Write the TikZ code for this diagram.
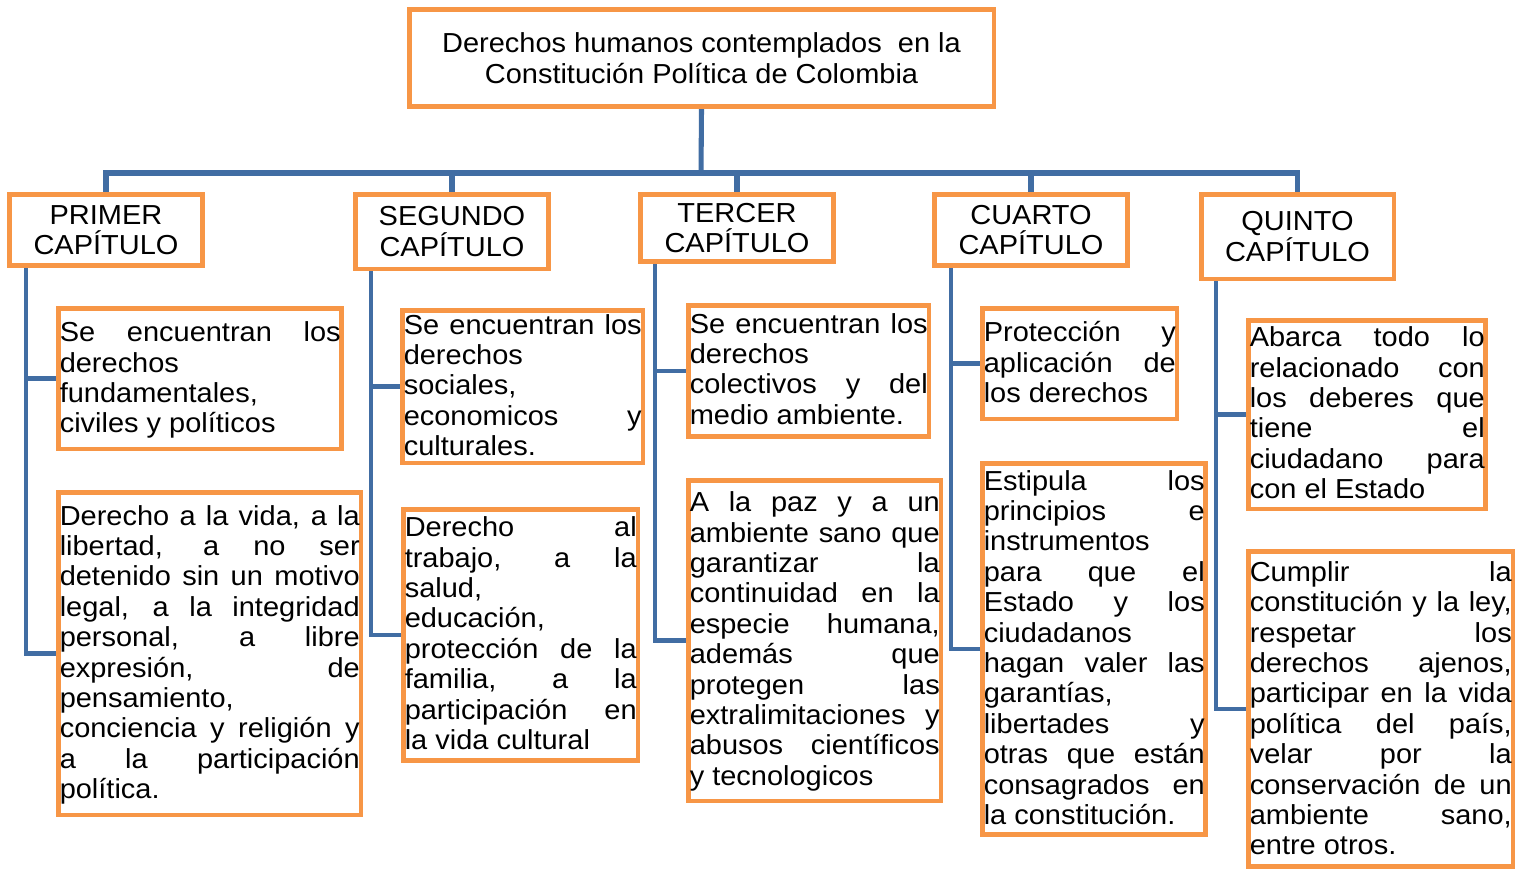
\documentclass[tikz,border=0pt]{standalone}
\usepackage{fontspec}
\setmainfont{Liberation Sans}[FakeStretch=1.055]
\usetikzlibrary{calc,backgrounds}
\definecolor{boxorange}{HTML}{F79646}
\definecolor{lineblue}{HTML}{416DA3}
\newcommand{\jline}[1]{\makebox[\linewidth][s]{\spaceskip=\fontdimen2\font plus 1fil\relax #1}}
\tikzset{
  every node/.style={font=\fontsize{20.6pt}{22.8pt}\selectfont, text=black},
  bx/.style={draw=boxorange, line width=3.4pt, fill=white, inner sep=0pt, rectangle},
  tx/.style={anchor=base west, align=left, inner sep=0pt,
    execute at begin node={\spaceskip=0pt\xspaceskip=0pt\relax}},
  trunk/.style={draw=lineblue, line width=3.8pt},
  conn/.style={draw=lineblue, line width=3.6pt},
}
\begin{document}
\begin{tikzpicture}[x=0.75pt,y=-0.75pt]
\useasboundingbox (0,0) rectangle (1519,871);

% ---- title and chapters
\node[bx, minimum width=438.4pt, minimum height=73.1pt, align=center] (top) at (701.5,58)
  {Derechos humanos contemplados\ \ en la\\Constitución Política de Colombia};
\node[bx, minimum width=145.1pt, minimum height=53.6pt, align=center] (prim) at (106,230) {PRIMER\\CAPÍTULO};
\node[bx, minimum width=145.1pt, minimum height=55.9pt, align=center] (segu) at (452,231.5) {SEGUNDO\\CAPÍTULO};
\node[bx, minimum width=145.1pt, minimum height=50.6pt, align=center] (terc) at (737,228) {TERCER\\CAPÍTULO};
\node[bx, minimum width=145.1pt, minimum height=53.6pt, align=center] (cuar) at (1031,230) {CUARTO\\CAPÍTULO};
\node[bx, minimum width=144.4pt, minimum height=63.4pt, align=center] (quin) at (1297.5,236.5) {QUINTO\\CAPÍTULO};

% ---- child boxes
\node[bx, minimum width=212.6pt, minimum height=105.4pt] (p1) at (200,378.5) {};
\node[bx, minimum width=226.9pt, minimum height=241.9pt] (p2) at (209.5,653.5) {};
\node[bx, minimum width=180.4pt, minimum height=114.4pt] (s1) at (522.5,386.5) {};
\node[bx, minimum width=175.9pt, minimum height=188.6pt] (s2) at (520.5,635) {};
\node[bx, minimum width=180.4pt, minimum height=98.6pt] (t1) at (808.5,371) {};
\node[bx, minimum width=189.4pt, minimum height=240.4pt] (t2) at (814.5,640.5) {};
\node[bx, minimum width=145.9pt, minimum height=82.9pt] (c1) at (1079.5,363.5) {};
\node[bx, minimum width=167.6pt, minimum height=278.6pt] (c2) at (1094,649) {};
\node[bx, minimum width=178.1pt, minimum height=141.4pt] (q1) at (1367,414.5) {};
\node[bx, minimum width=198.4pt, minimum height=236.6pt] (q2) at (1380.5,709) {};

% ---- texts
\node[tx, text width=210.75pt] (p1t) at (59.5,341.7)
  {\jline{Se encuentran los}\\derechos\\fundamentales,\\civiles y políticos};
\node[tx, text width=225pt] (p2t) at (59.5,525)
  {\jline{Derecho a la vida, a la}\\\jline{libertad, a no ser}\\\jline{detenido sin un motivo}\\\jline{legal, a la integridad}\\\jline{personal, a libre}\\\jline{expresión, de}\\pensamiento,\\\jline{conciencia y religión y}\\\jline{a la participación}\\política.};
\node[tx, text width=178.5pt] (s1t) at (403.5,334)
  {\jline{Se encuentran los}\\derechos\\sociales,\\\jline{economicos y}\\culturales.};
\node[tx, text width=174pt] (s2t) at (404.5,536.7)
  {\jline{Derecho al}\\\jline{trabajo, a la}\\salud,\\educación,\\\jline{protección de la}\\\jline{familia, a la}\\\jline{participación en}\\la vida cultural};
\node[tx, text width=178.5pt] (t1t) at (689.5,333)
  {\jline{Se encuentran los}\\derechos\\\jline{colectivos y del}\\medio ambiente.};
\node[tx, text width=187.5pt] (t2t) at (689.5,511.7)
  {\jline{A la paz y a un}\\\jline{ambiente sano que}\\\jline{garantizar la}\\\jline{continuidad en la}\\\jline{especie humana,}\\\jline{además que}\\\jline{protegen las}\\\jline{extralimitaciones y}\\\jline{abusos científicos}\\y tecnologicos};
\node[tx, text width=144pt] (c1t) at (983.5,341.7)
  {\jline{Protección y}\\\jline{aplicación de}\\los derechos};
\node[tx, text width=165.75pt] (c2t) at (983.5,490)
  {\jline{Estipula los}\\\jline{principios e}\\instrumentos\\\jline{para que el}\\\jline{Estado y los}\\ciudadanos\\\jline{hagan valer las}\\garantías,\\\jline{libertades y}\\\jline{otras que están}\\\jline{consagrados en}\\la constitución.};
\node[tx, text width=176.25pt] (q1t) at (1249.5,346.7)
  {\jline{Abarca todo lo}\\\jline{relacionado con}\\\jline{los deberes que}\\\jline{tiene el}\\\jline{ciudadano para}\\con el Estado};
\node[tx, text width=196.5pt] (q2t) at (1249.5,581.3)
  {\jline{Cumplir la}\\\jline{constitución y la ley,}\\\jline{respetar los}\\\jline{derechos ajenos,}\\\jline{participar en la vida}\\\jline{política del país,}\\\jline{velar por la}\\\jline{conservación de un}\\\jline{ambiente sano,}\\entre otros.};

% ---- background and connectors
\begin{scope}[on background layer]
\fill[white] (0,0) rectangle (1519,871);
\coordinate (hub) at (701,173);
\draw[trunk] (top.south) -- (hub);
\draw[trunk] (prim.north) |- (hub);
\draw[trunk] (segu.north) |- (hub);
\draw[trunk] (terc.north) |- (hub);
\draw[trunk] (cuar.north) |- (hub);
\draw[trunk] (quin.north) |- (hub);
\draw[conn] ($(prim.south west)+(19,0)$) |- (p1.west);
\draw[conn] ($(prim.south west)+(19,0)$) |- (p2.west);
\draw[conn] ($(segu.south west)+(18,0)$) |- (s1.west);
\draw[conn] ($(segu.south west)+(18,0)$) |- (s2.west);
\draw[conn] ($(terc.south west)+(17,0)$) |- (t1.west);
\draw[conn] ($(terc.south west)+(17,0)$) |- (t2.west);
\draw[conn] ($(cuar.south west)+(19,0)$) |- (c1.west);
\draw[conn] ($(cuar.south west)+(19,0)$) |- (c2.west);
\draw[conn] ($(quin.south west)+(17,0)$) |- (q1.west);
\draw[conn] ($(quin.south west)+(17,0)$) |- (q2.west);
\end{scope}
\end{tikzpicture}
\end{document}
